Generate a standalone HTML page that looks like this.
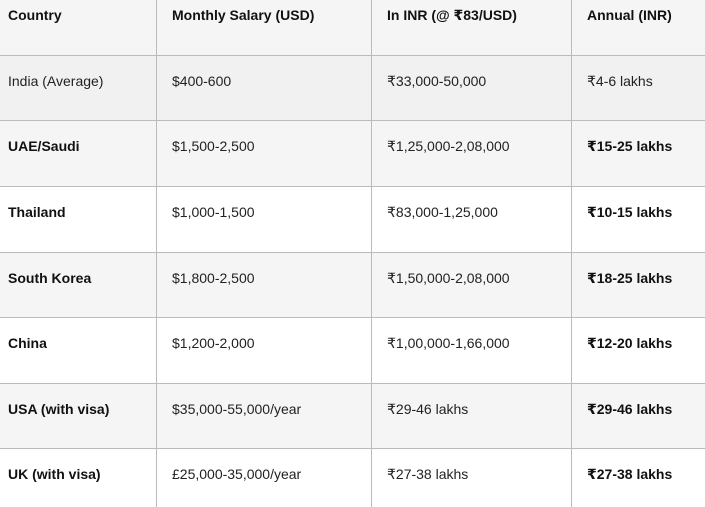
<!DOCTYPE html>
<html><head><style>
body{margin:0;width:705px;height:507px;overflow:hidden;background:#fff;font-family:"Liberation Sans","DejaVu Sans",sans-serif;font-size:14px;color:#111;position:relative}
.r{position:absolute;left:0;width:705px;border-bottom:1px solid #bbb}
.v{position:absolute;top:0;height:507px;width:1px;background:#bbb}
.t{position:absolute;line-height:20px;white-space:nowrap;color:#222}
b{font-weight:bold;color:#111}
</style></head><body>
<div class="r" style="top:0;height:55px;background:#f5f5f5"></div>
<div class="r" style="top:56px;height:64px;background:#f1f1f1"></div>
<div class="r" style="top:121px;height:65px;background:#f5f5f5"></div>
<div class="r" style="top:187px;height:65px;background:#fff"></div>
<div class="r" style="top:253px;height:64px;background:#f5f5f5"></div>
<div class="r" style="top:318px;height:65px;background:#fff"></div>
<div class="r" style="top:384px;height:64px;background:#f5f5f5"></div>
<div class="v" style="left:156px"></div><div class="v" style="left:371px"></div><div class="v" style="left:571px"></div>

<div class="t" style="top:5px;left:8px"><b>Country</b></div>
<div class="t" style="top:5px;left:172px"><b>Monthly Salary (USD)</b></div>
<div class="t" style="top:5px;left:387px"><b>In INR (@ ₹83/USD)</b></div>
<div class="t" style="top:5px;left:587px"><b>Annual (INR)</b></div>

<div class="t" style="top:71px;left:8px">India (Average)</div>
<div class="t" style="top:71px;left:172px">$400-600</div>
<div class="t" style="top:71px;left:387px">₹33,000-50,000</div>
<div class="t" style="top:71px;left:587px">₹4-6 lakhs</div>

<div class="t" style="top:136px;left:8px"><b>UAE/Saudi</b></div>
<div class="t" style="top:136px;left:172px">$1,500-2,500</div>
<div class="t" style="top:136px;left:387px">₹1,25,000-2,08,000</div>
<div class="t" style="top:136px;left:587px"><b>₹15-25 lakhs</b></div>

<div class="t" style="top:202px;left:8px"><b>Thailand</b></div>
<div class="t" style="top:202px;left:172px">$1,000-1,500</div>
<div class="t" style="top:202px;left:387px">₹83,000-1,25,000</div>
<div class="t" style="top:202px;left:587px"><b>₹10-15 lakhs</b></div>

<div class="t" style="top:268px;left:8px"><b>South Korea</b></div>
<div class="t" style="top:268px;left:172px">$1,800-2,500</div>
<div class="t" style="top:268px;left:387px">₹1,50,000-2,08,000</div>
<div class="t" style="top:268px;left:587px"><b>₹18-25 lakhs</b></div>

<div class="t" style="top:333px;left:8px"><b>China</b></div>
<div class="t" style="top:333px;left:172px">$1,200-2,000</div>
<div class="t" style="top:333px;left:387px">₹1,00,000-1,66,000</div>
<div class="t" style="top:333px;left:587px"><b>₹12-20 lakhs</b></div>

<div class="t" style="top:399px;left:8px"><b>USA (with visa)</b></div>
<div class="t" style="top:399px;left:172px">$35,000-55,000/year</div>
<div class="t" style="top:399px;left:387px">₹29-46 lakhs</div>
<div class="t" style="top:399px;left:587px"><b>₹29-46 lakhs</b></div>

<div class="t" style="top:464px;left:8px"><b>UK (with visa)</b></div>
<div class="t" style="top:464px;left:172px">£25,000-35,000/year</div>
<div class="t" style="top:464px;left:387px">₹27-38 lakhs</div>
<div class="t" style="top:464px;left:587px"><b>₹27-38 lakhs</b></div>
</body></html>
